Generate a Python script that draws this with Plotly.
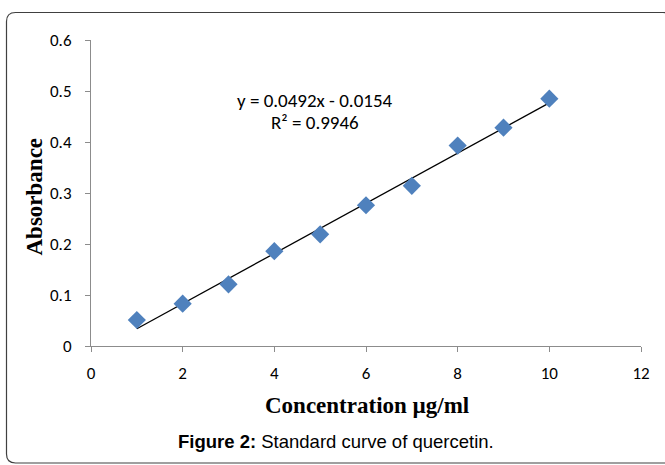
import plotly.graph_objects as go

concentration = [1, 2, 3, 4, 5, 6, 7, 8, 9, 10]
absorbance = [0.051, 0.083, 0.121, 0.186, 0.219, 0.276, 0.314, 0.393, 0.428, 0.485]
slope = 0.0492
intercept = -0.0154
x_ticks = [0, 2, 4, 6, 8, 10, 12]
y_ticks = [0, 0.1, 0.2, 0.3, 0.4, 0.5, 0.6]

fit_x = [min(concentration), max(concentration)]
fit_y = [slope * v + intercept for v in fit_x]

W, H = 665, 465
L, R, T, B = 91, 24, 40, 119
pw, ph = W - L - R, H - T - B

def px(xp):
    return (xp - L) / pw

def py(yp):
    return (H - B - yp) / ph

fig = go.Figure()
fig.add_trace(go.Scatter(x=fit_x, y=fit_y, mode="lines",
                         line=dict(color="black", width=1.3), hoverinfo="skip"))
fig.add_trace(go.Scatter(x=concentration, y=absorbance, mode="markers",
                         marker=dict(symbol="diamond", size=14, color="#4F81BD",
                                     line=dict(width=0))))

font_tick = "Carlito, Liberation Sans Narrow, Open Sans, sans-serif"
serif = "Liberation Serif, Times New Roman, serif"

# rounded border
x0, x1 = px(6.5), px(672)
y0, y1 = py(463), py(12.5)
rx = 9 / pw
ry = 9 / ph
path = (f"M {x0+rx},{y1} L {x1-rx},{y1} Q {x1},{y1} {x1},{y1-ry} "
        f"L {x1},{y0+ry} Q {x1},{y0} {x1-rx},{y0} L {x0+rx},{y0} "
        f"Q {x0},{y0} {x0},{y0+ry} L {x0},{y1-ry} Q {x0},{y1} {x0+rx},{y1} Z")

def note(text, xp, yp, font, angle=0):
    return dict(text=text, x=px(xp), y=py(yp), xref="paper", yref="paper",
                xanchor="center", yanchor="middle", showarrow=False,
                textangle=angle, font=font)

fig.update_layout(
    width=W, height=H,
    margin=dict(l=L, r=R, t=T, b=B, autoexpand=False),
    paper_bgcolor="white", plot_bgcolor="white",
    showlegend=False,
    xaxis=dict(range=[0, 12], tickvals=x_ticks, showgrid=False, zeroline=False,
               showline=True, linecolor="#8c8c8c", linewidth=1.2,
               ticks="outside", ticklen=5, tickcolor="#8c8c8c",
               ticklabelstandoff=6,
               tickfont=dict(family=font_tick, size=17, color="black")),
    yaxis=dict(range=[0, 0.6], tickvals=y_ticks, ticktext=[str(v) for v in y_ticks],
               showgrid=False, zeroline=False,
               showline=True, linecolor="#8c8c8c", linewidth=1.2,
               ticks="outside", ticklen=5, tickcolor="#8c8c8c",
               ticklabelstandoff=10,
               tickfont=dict(family=font_tick, size=17, color="black")),
    shapes=[dict(type="path", xref="paper", yref="paper", path=path,
                 line=dict(color="#404040", width=1.2))],
    annotations=[
        note("y = 0.0492x - 0.0154", 315, 100, dict(family=font_tick, size=19, color="black")),
        note("R² = 0.9946", 315, 122, dict(family=font_tick, size=19, color="black")),
        note("<b>Concentration µg/ml</b>", 367, 405, dict(family=serif, size=23, color="black")),
        note("<b>Absorbance</b>", 33.5, 197, dict(family=serif, size=23, color="black"), angle=-90),
        note("<b>Figure 2:</b> Standard curve of quercetin.", 336, 441,
             dict(family="Liberation Sans, Arial, sans-serif", size=18.5, color="black")),
    ],
)

fig.write_html("out.html", config={"displayModeBar": False},
               post_script="document.body.style.margin='0px';")
